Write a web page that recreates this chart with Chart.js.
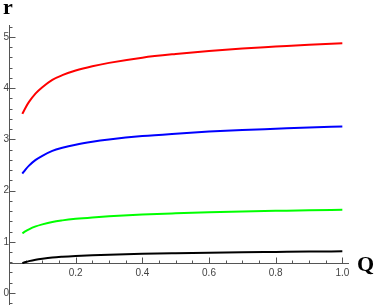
<!DOCTYPE html>
<html>
<head>
<meta charset="utf-8">
<script src="https://cdn.jsdelivr.net/npm/chart.js@4"></script>
<style>
  html, body { margin: 0; padding: 0; background: #fff; }
</style>
</head>
<body>
<canvas id="myChart" width="374" height="305"></canvas>
<script>
// data
const qValues     = [0.04, 0.05, 0.06, 0.08, 0.10, 0.13, 0.16, 0.20, 0.25, 0.30, 0.40, 0.50, 0.60, 0.70, 0.80, 0.90, 1.00];
const redValues   = [3.498, 3.624, 3.732, 3.900, 4.020, 4.164, 4.254, 4.344, 4.428, 4.494, 4.596, 4.668, 4.728, 4.776, 4.812, 4.848, 4.878];
const blueValues  = [2.332, 2.416, 2.488, 2.600, 2.680, 2.776, 2.836, 2.896, 2.952, 2.996, 3.064, 3.112, 3.152, 3.184, 3.208, 3.232, 3.252];
const greenValues = [1.166, 1.208, 1.244, 1.300, 1.340, 1.388, 1.418, 1.448, 1.476, 1.498, 1.532, 1.556, 1.576, 1.592, 1.604, 1.616, 1.626];
const blackValues = [0.583, 0.604, 0.622, 0.650, 0.670, 0.694, 0.709, 0.724, 0.738, 0.749, 0.766, 0.778, 0.788, 0.796, 0.802, 0.808, 0.813];

const xTicks = [0.2, 0.4, 0.6, 0.8, 1.0];
const yTicks = [0, 1, 2, 3, 4, 5];

const xAxisAt = 0.59; // the Q axis crosses r here
const axisColor = '#555';

function line(vals, color) {
    return {
        data: qValues.map((q, i) => ({ x: q, y: vals[i] })),
        borderColor: color,
        borderWidth: 2,
        pointRadius: 0,
        cubicInterpolationMode: 'monotone',
        fill: false
    };
}

// axis lines, inward minor/major ticks (Mathematica style) and axis names
const axisDecor = {
    id: 'axisDecor',
    beforeDatasetsDraw(chart) {
        const { ctx, chartArea, scales: { x, y } } = chart;
        const x0 = Math.round(x.getPixelForValue(0)) + 0.5;
        const y0 = Math.round(y.getPixelForValue(xAxisAt)) + 0.5;
        ctx.save();
        ctx.strokeStyle = axisColor;
        ctx.lineWidth = 1;
        ctx.beginPath();
        // axes
        ctx.moveTo(x0, chartArea.top);
        ctx.lineTo(x0, chart.height);
        ctx.moveTo(x0, y0);
        ctx.lineTo(chartArea.right, y0);
        // ticks
        for (let i = 1; i * 0.05 <= 1.0001; i++) {
            const px = Math.round(x.getPixelForValue(i * 0.05)) + 0.5;
            const len = i % 4 === 0 ? 6 : 3;
            ctx.moveTo(px, y0);
            ctx.lineTo(px, y0 - len);
        }
        for (let i = -1; i * 0.2 <= 5.2001; i++) {
            const py = Math.round(y.getPixelForValue(i * 0.2)) + 0.5;
            const len = i % 5 === 0 ? 6 : 3;
            ctx.moveTo(x0, py);
            ctx.lineTo(x0 + len, py);
        }
        ctx.stroke();

        ctx.fillStyle = '#000';
        ctx.font = 'bold 22px "Liberation Serif"';
        ctx.textBaseline = 'alphabetic';
        ctx.fillText('r', 3, 14);
        ctx.fillText('Q', 357, 271);
        ctx.restore();
    }
};

const ctx = document.getElementById('myChart').getContext('2d');

const myChart = new Chart(ctx, {
    type: 'line',
    data: {
        datasets: [
            line(redValues, '#ff0000'),
            line(blueValues, '#0000ff'),
            line(greenValues, '#00ff00'),
            line(blackValues, '#000000')
        ]
    },
    options: {
        responsive: false,
        devicePixelRatio: 1,
        animation: false,
        layout: { padding: { left: 9, right: 25, top: 25, bottom: 0 } },
        plugins: {
            legend: { display: false },
            tooltip: { enabled: false }
        },
        scales: {
            x: {
                type: 'linear',
                min: 0,
                max: 1.02,
                position: { y: xAxisAt },
                grid: { display: false, drawTicks: false },
                border: { display: false },
                afterBuildTicks: s => { s.ticks = xTicks.map(v => ({ value: v })); },
                ticks: {
                    autoSkip: false,
                    maxRotation: 0,
                    padding: 4,
                    color: '#444',
                    font: { family: 'Liberation Sans', size: 10 },
                    callback: v => v.toFixed(1)
                }
            },
            y: {
                type: 'linear',
                min: -0.059,
                max: 5.234,
                position: { x: 0 },
                grid: { display: false, drawTicks: false },
                border: { display: false },
                afterBuildTicks: s => { s.ticks = yTicks.map(v => ({ value: v })); },
                ticks: {
                    autoSkip: false,
                    padding: 3,
                    color: '#444',
                    font: { family: 'Liberation Sans', size: 10 },
                    callback: v => String(v)
                }
            }
        }
    },
    plugins: [axisDecor]
});
</script>
</body>
</html>
